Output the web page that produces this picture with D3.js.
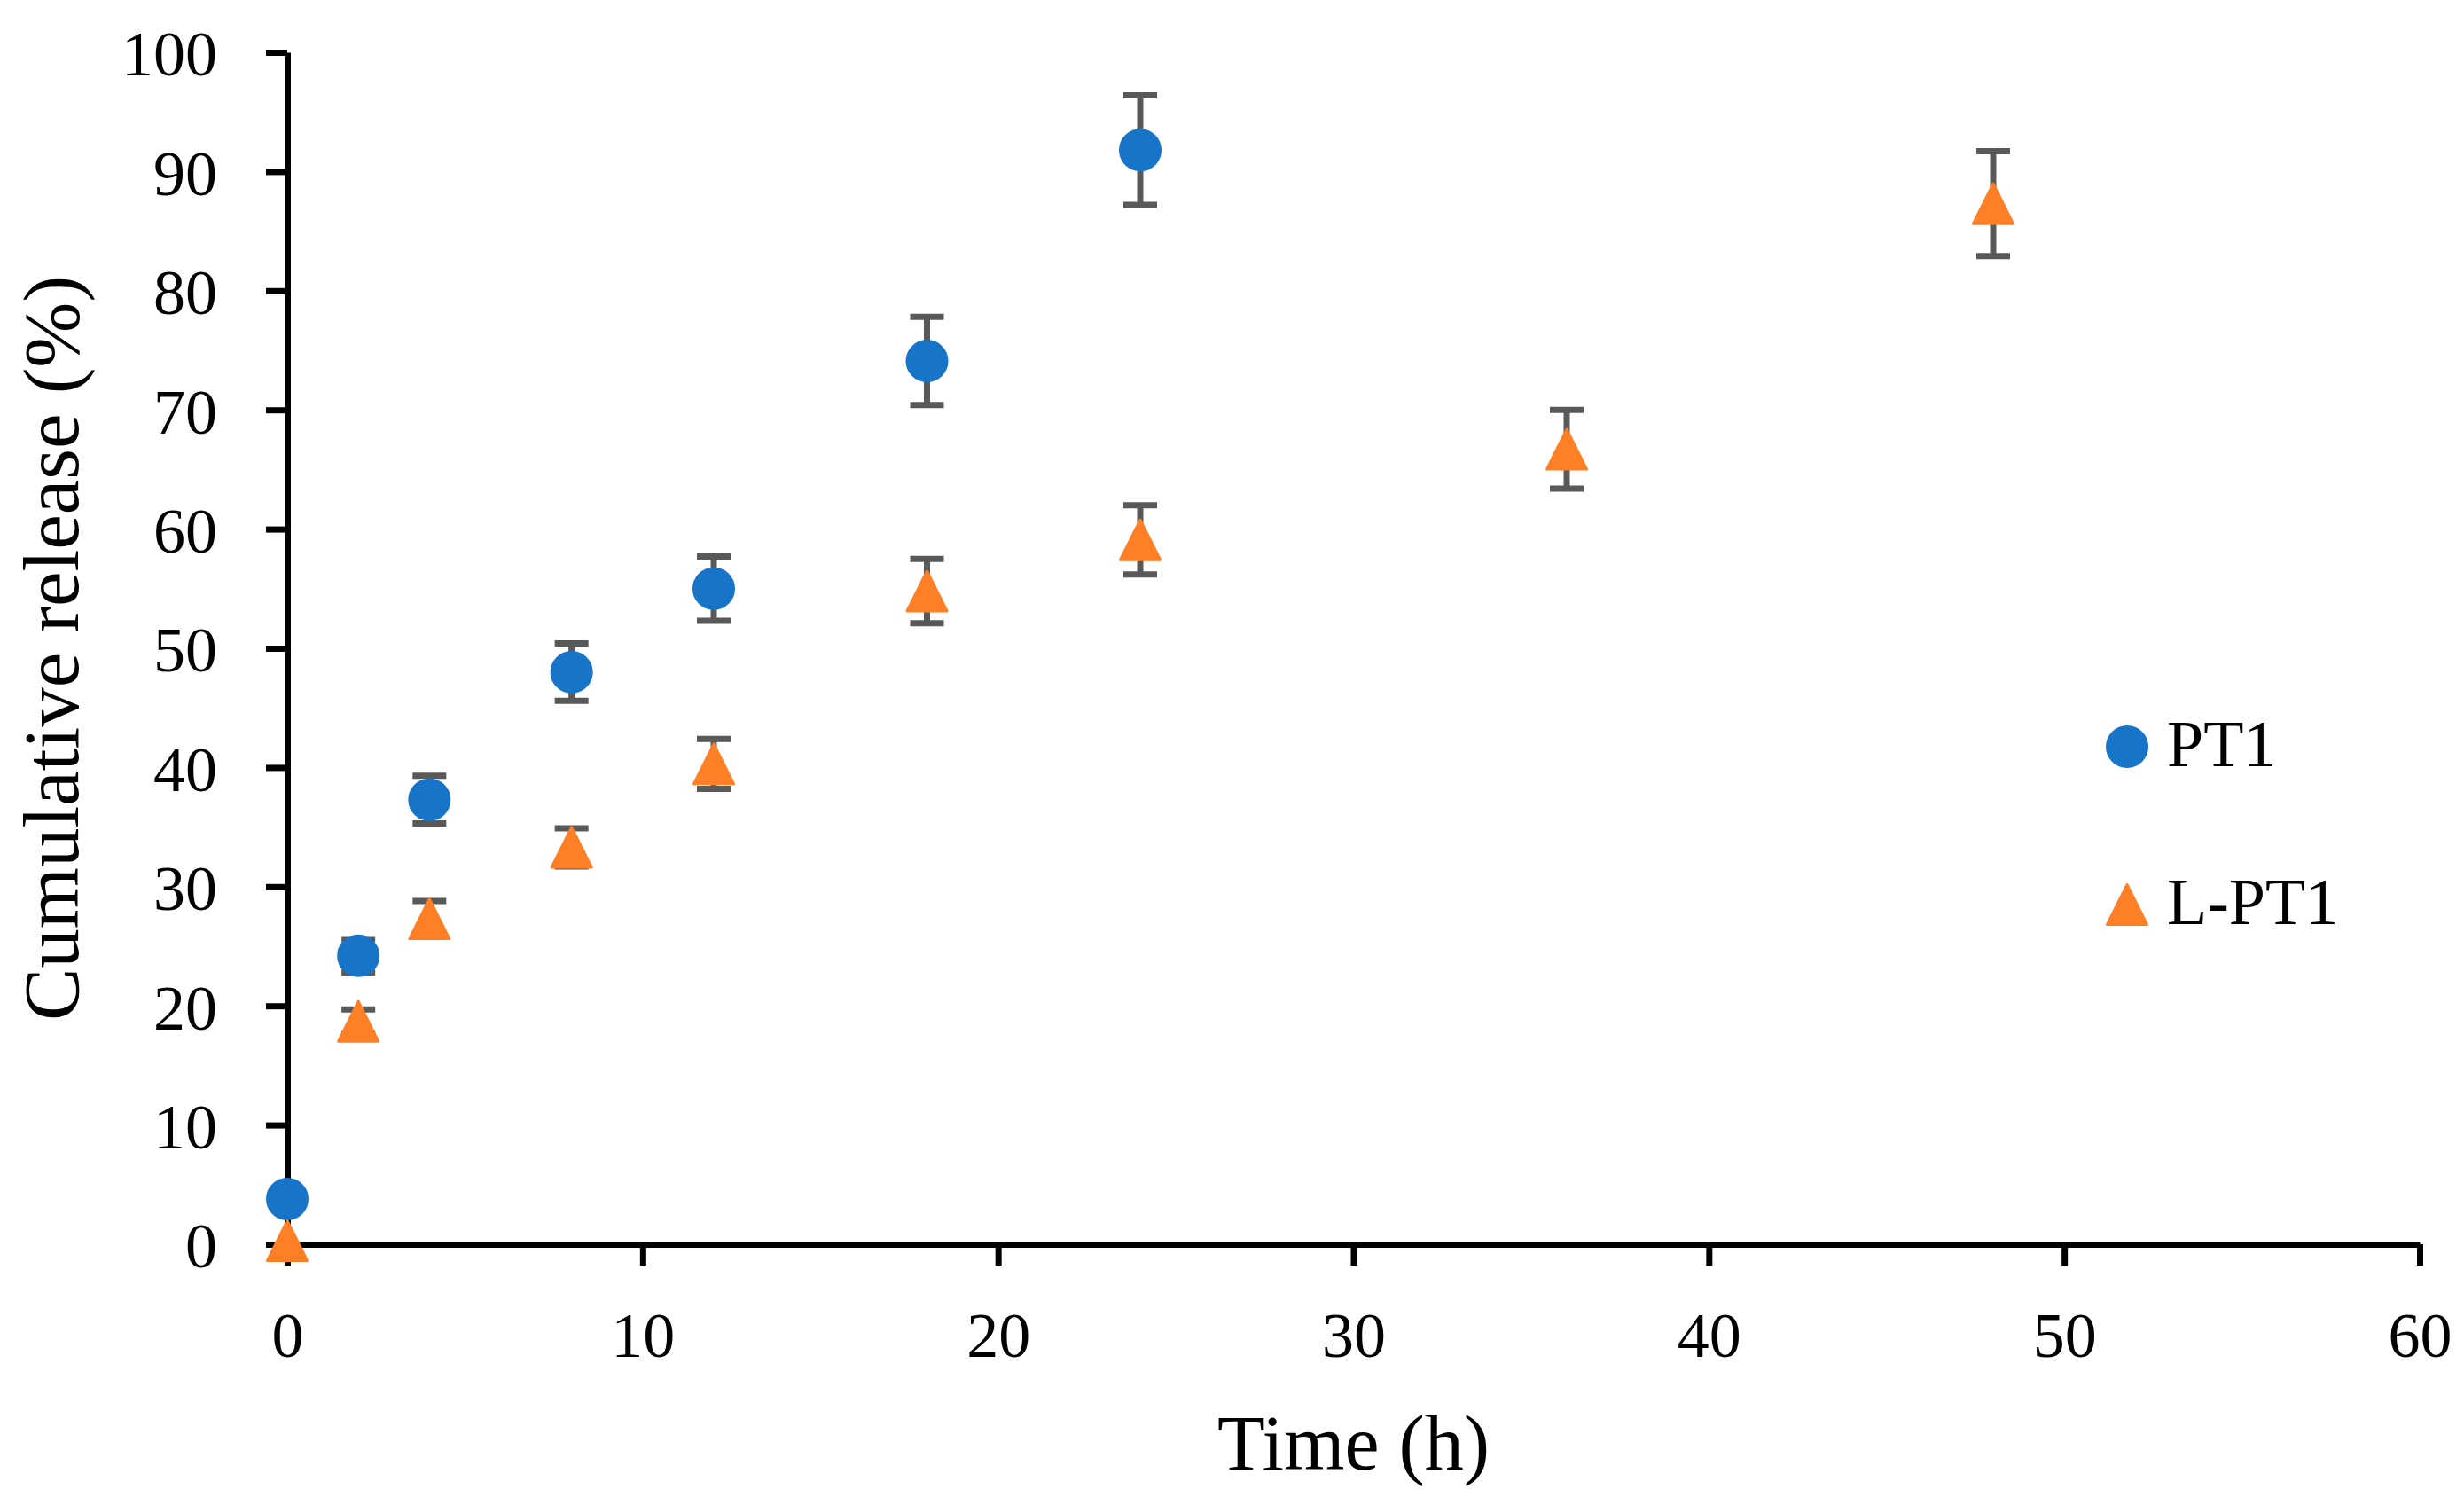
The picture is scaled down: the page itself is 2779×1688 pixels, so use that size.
<!DOCTYPE html>
<html>
<head>
<meta charset="utf-8">
<script src="https://cdn.jsdelivr.net/npm/d3@7"></script>
<style>
  body { margin: 0; background: #fff; }
  text { font-family: "Liberation Serif", "DejaVu Serif", serif; fill: #000; }
</style>
</head>
<body>
<div id="chart"></div>
<script>
  // sampling times (h)
  let timePT1 = [0, 2, 4, 8, 12, 18, 24]
  let timeLPT1 = [0, 2, 4, 8, 12, 18, 24, 36, 48]

  // cumulative release (%) and SD
  let releasePT1 = [3.8, 24.2, 37.3, 48.0, 55.0, 74.1, 91.8]
  let errPT1 = [0, 1.4, 2.0, 2.4, 2.7, 3.7, 4.6]
  let releaseLPT1 = [0.3, 18.7, 27.3, 33.3, 40.3, 54.8, 59.1, 66.7, 87.3]
  let errLPT1 = [0, 1.0, 1.5, 1.6, 2.1, 2.7, 2.9, 3.3, 4.4]

  let seriesNames = ["PT1", "L-PT1"]
  let xTicks = [0, 10, 20, 30, 40, 50, 60]
  let yTicks = [0, 10, 20, 30, 40, 50, 60, 70, 80, 90, 100]

  let width = 2779, height = 1688
  let margin = {left: 324, right: 50, top: 59, bottom: 285}

  let blue = "#1874c9", orange = "#ff7f27", barColor = "#595959"

  let svg = d3.select("#chart").append("svg")
    .attr("width", width)
    .attr("height", height)

  let x = d3.scaleLinear().domain([0, 60]).range([margin.left, width - margin.right])
  let y = d3.scaleLinear().domain([0, 100]).range([height - margin.bottom, margin.top])

  // triangle centred on its bounding box, like the spreadsheet marker
  let boxTriangle = {
    draw: function(context, size){
      let h = Math.sqrt(size)
      context.moveTo(0, -h / 2)
      context.lineTo(h / 2, h / 2)
      context.lineTo(-h / 2, h / 2)
      context.closePath()
    }
  }

  // axes
  let xAxis = svg.append("g")
    .attr("transform", "translate(0," + y(0) + ")")
    .call(d3.axisBottom(x).tickValues(xTicks).tickSize(24).tickSizeOuter(0).tickPadding(52))
  let yAxis = svg.append("g")
    .attr("transform", "translate(" + x(0) + ",0)")
    .call(d3.axisLeft(y).tickValues(yTicks).tickSize(24).tickSizeOuter(0).tickPadding(55))

  svg.selectAll(".domain, .tick line")
    .attr("stroke", "#000")
    .attr("stroke-width", 7)
  svg.selectAll(".tick text")
    .style("font-size", "72px")
    .style("font-family", "'Liberation Serif', serif")
  yAxis.selectAll(".tick text").attr("dy", "0.36em")

  // titles
  svg.append("text")
    .attr("x", (x(0) + x(60)) / 2)
    .attr("y", 1657)
    .attr("text-anchor", "middle")
    .style("font-size", "88px")
    .text("Time (h)")

  svg.append("text")
    .attr("transform", "translate(88," + (y(0) + y(100)) / 2 + ") rotate(-90)")
    .attr("text-anchor", "middle")
    .style("font-size", "89px")
    .text("Cumulative release (%)")

  function drawSeries(times, vals, errs, color, symbolType, size){
    let pts = times.map(function(t, i){ return {t: t, v: vals[i], e: errs[i]} })
      .filter(function(d){ return true })
    let g = svg.append("g")

    let bars = g.selectAll(".eb").data(pts.filter(function(d){ return d.e > 0 })).enter().append("g")
      .attr("stroke", barColor)
      .attr("stroke-width", 7)
    bars.append("line")
      .attr("x1", function(d){ return x(d.t) })
      .attr("x2", function(d){ return x(d.t) })
      .attr("y1", function(d){ return y(d.v + d.e) })
      .attr("y2", function(d){ return y(d.v - d.e) })
    bars.append("line")
      .attr("x1", function(d){ return x(d.t) - 19 })
      .attr("x2", function(d){ return x(d.t) + 19 })
      .attr("y1", function(d){ return y(d.v + d.e) })
      .attr("y2", function(d){ return y(d.v + d.e) })
    bars.append("line")
      .attr("x1", function(d){ return x(d.t) - 19 })
      .attr("x2", function(d){ return x(d.t) + 19 })
      .attr("y1", function(d){ return y(d.v - d.e) })
      .attr("y2", function(d){ return y(d.v - d.e) })

    g.selectAll(".mk").data(pts).enter().append("path")
      .attr("d", d3.symbol().type(symbolType).size(size))
      .attr("transform", function(d){ return "translate(" + x(d.t) + "," + y(d.v) + ")" })
      .attr("fill", color)
      .attr("stroke", color)
      .attr("stroke-width", 3)
      .attr("stroke-linejoin", "round")
  }

  drawSeries(timePT1, releasePT1, errPT1, blue, d3.symbolCircle, Math.PI * 22.5 * 22.5)
  drawSeries(timeLPT1, releaseLPT1, errLPT1, orange, boxTriangle, 45 * 45)

  // legend
  let legend = svg.append("g")
  let legendY = [842, 1020]
  let legendSym = [d3.symbolCircle, boxTriangle]
  let legendSize = [Math.PI * 22.5 * 22.5, 45 * 45]
  let legendCol = [blue, orange]

  seriesNames.forEach(function(name, i){
    legend.append("path")
      .attr("d", d3.symbol().type(legendSym[i]).size(legendSize[i]))
      .attr("transform", "translate(2399," + legendY[i] + ")")
      .attr("fill", legendCol[i])
      .attr("stroke", legendCol[i])
      .attr("stroke-width", 3)
      .attr("stroke-linejoin", "round")
    legend.append("text")
      .attr("x", 2444)
      .attr("y", legendY[i] + 22)
      .style("font-size", "74px")
      .text(name)
  })
</script>
</body>
</html>
